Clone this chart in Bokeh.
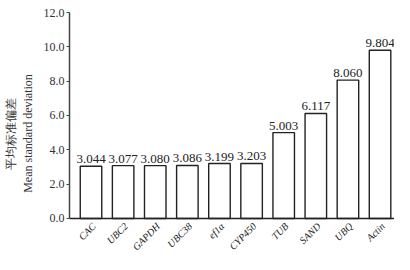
import math
from bokeh.plotting import figure
from bokeh.models import ColumnDataSource, FixedTicker, Range1d, LabelSet, Span
from bokeh.embed import file_html
from bokeh.resources import INLINE

genes = ["CAC", "UBC2", "GAPDH", "UBC38", "ef1α", "CYP450", "TUB", "SAND", "UBQ", "Actin"]
values = [3.044, 3.077, 3.080, 3.086, 3.199, 3.203, 5.003, 6.117, 8.060, 9.804]
value_labels = ["3.044", "3.077", "3.080", "3.086", "3.199", "3.203", "5.003", "6.117", "8.060", "9.804"]
y_ticks = [0, 2, 4, 6, 8, 10, 12]
y_tick_labels = ["0.0", "2.0", "4.0", "6.0", "8.0", "10.0", "12.0"]
y_title = "平均标准偏差\nMean standard deviation"

idx = list(range(len(genes)))
zeros = [0] * len(genes)
src = ColumnDataSource(dict(x=idx, top=values, lab=value_labels, base=zeros, gene=genes))

SERIF = "Liberation Serif"

p = figure(width=394, height=254, output_backend="svg", toolbar_location=None,
           x_range=Range1d(-0.67, 9.45), y_range=Range1d(-2.10, 12),
           x_axis_location=None,
           min_border_left=10, min_border_top=12, min_border_right=0, min_border_bottom=0)
p.outline_line_color = None
p.grid.visible = False

p.vbar(x="x", top="top", width=0.67, bottom=0, source=src,
       fill_color="white", line_color="#222222", line_width=1.4)

# x axis line at zero
p.add_layout(Span(location=0, dimension="width", line_color="#222222", line_width=1.5))

labels = LabelSet(x="x", y="top", text="lab", source=src, text_align="center",
                  text_baseline="bottom", y_offset=3, text_font=SERIF,
                  text_font_size="13px", text_color="#222222")
p.add_layout(labels)

gene_labels = LabelSet(x="x", y="base", text="gene", source=src, text_align="right",
                       text_baseline="middle", angle=math.pi / 4, x_offset=3, y_offset=-6,
                       text_font=SERIF, text_font_style="italic",
                       text_font_size="10px", text_color="#222222")
p.add_layout(gene_labels)

# y axis
p.yaxis.bounds = (0, 12)
p.yaxis.ticker = FixedTicker(ticks=y_ticks)
p.yaxis.major_label_overrides = {t: l for t, l in zip(y_ticks, y_tick_labels)}
p.yaxis.major_label_text_font = SERIF
p.yaxis.major_label_text_font_size = "12px"
p.yaxis.major_label_text_color = "#333333"
p.yaxis.axis_line_color = "#444444"
p.yaxis.axis_line_width = 1.5
p.yaxis.major_tick_line_color = "#444444"
p.yaxis.major_tick_in = 0
p.yaxis.major_tick_out = 3
p.yaxis.minor_tick_line_color = None
p.yaxis.major_label_standoff = 2
p.yaxis.axis_label = y_title
p.yaxis.axis_label_text_font = SERIF
p.yaxis.axis_label_text_font_style = "normal"
p.yaxis.axis_label_text_font_size = "12px"
p.yaxis.axis_label_text_color = "#333333"
p.yaxis.axis_label_standoff = 6

open("out.html", "w").write(file_html(p, INLINE))
